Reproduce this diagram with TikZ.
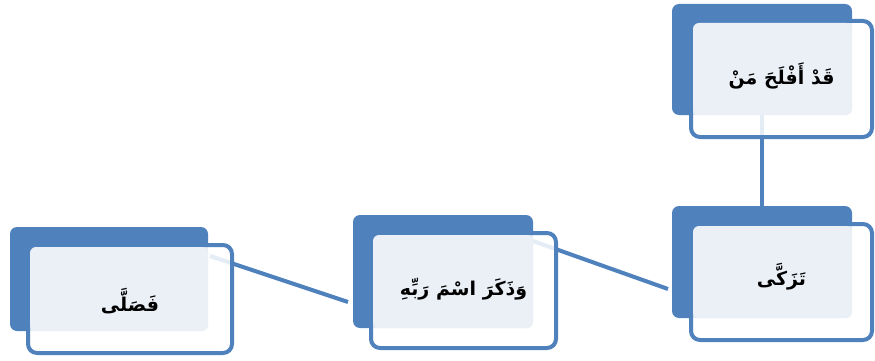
\documentclass[tikz,border=0pt]{standalone}
\usepackage{fontspec}
\usepackage{tikz}
\usetikzlibrary{calc,positioning}
\newfontfamily\arab[Script=Arabic]{DejaVu Sans}
\TeXXeTstate=1
\definecolor{ofblue}{RGB}{79,129,189}
\definecolor{oflight}{RGB}{235,240,247}

\begin{document}
\begin{tikzpicture}[x=1pt,y=-1pt,font=\arab\bfseries\fontsize{19}{22}\selectfont,
    backbox/.style={fill=ofblue,rounded corners=7pt,inner sep=0pt,outer sep=0pt},
    frontbox/.style={draw=ofblue,line width=4pt,fill=white,fill opacity=.85,draw opacity=1,rounded corners=9pt,inner sep=0pt},
    link/.style={draw=ofblue,line width=4pt}]
    \useasboundingbox (0,0) rectangle (875,361);
    % back boxes
    \node[backbox,minimum width=180pt,minimum height=111pt] (topb) at (762,59.5) {};
    \node[backbox,minimum width=180pt,minimum height=112pt] (tzkb) at (762,262) {};
    \node[backbox,minimum width=180pt,minimum height=113pt] (dhkb) at (443,271.5) {};
    \node[backbox,minimum width=198pt,minimum height=104pt] (fslb) at (109,279) {};
    % links (behind the front boxes)
    \path[link] (topb.south) -- (tzkb.north);
    \path[link] ($(dhkb.north east)+(0,26)$) -- ($(tzkb.north west)+(-4,83)$);
    \path[link] ($(fslb.north east)+(2,29)$) -- ($(dhkb.north west)+(-5,87)$);
    % front boxes
    \node[frontbox,minimum width=181pt,minimum height=116pt] (topf) at (781.5,79) {};
    \node[frontbox,minimum width=181pt,minimum height=116pt] (tzkf) at (781.5,282) {};
    \node[frontbox,minimum width=185pt,minimum height=115pt] (dhkf) at (463.5,290.5) {};
    \node[frontbox,minimum width=204pt,minimum height=108pt] (fslf) at (130,299) {};
    \foreach \n in {top,tzk,dhk,fsl}{
      \fill[oflight,rounded corners=6pt] ($(\n f.north west)+(4,4)$) rectangle (\n b.south east);
    }
    % texts
    \node (top) at ($(topf.center)+(0,-3)$) {\beginR قَدْ أَفْلَحَ مَنْ\endR};
    \node (tzk) at ($(tzkf.center)+(0,-5)$) {\beginR تَزَكَّى\endR};
    \node (dhk) at ($(dhkf.center)+(0,-1)$) {\beginR وَذَكَرَ اسْمَ رَبِّهِ\endR};
    \node (fsl) at ($(fslf.center)+(0,2)$) {\beginR فَصَلَّى\endR};
\end{tikzpicture}
\end{document}
